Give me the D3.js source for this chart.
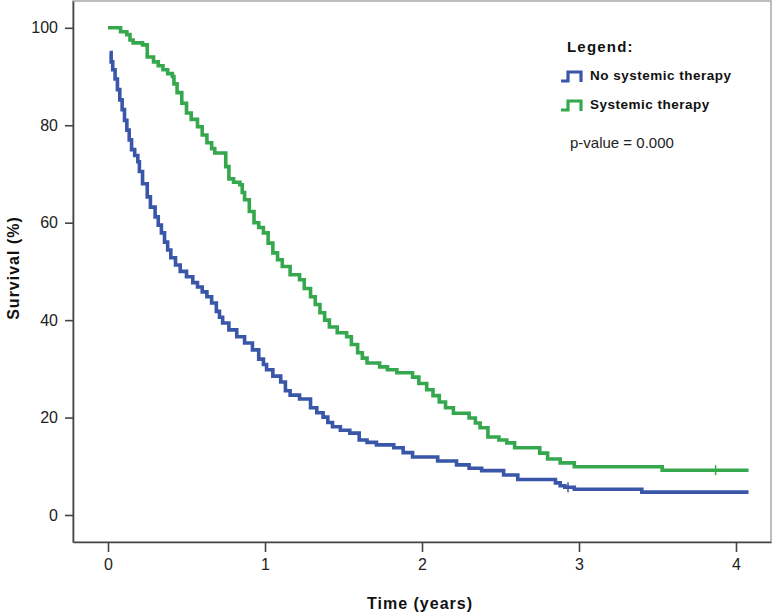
<!DOCTYPE html>
<html>
<head>
<meta charset="utf-8">
<script src="https://cdn.jsdelivr.net/npm/d3@7"></script>
<style>
  body { margin: 0; background: white; }
  text { font-family: Arial, 'Liberation Sans', sans-serif; }
</style>
</head>
<body>
<div id="chart"></div>
<script>
// Kaplan-Meier estimates (time in years, survival in %)
const noTherapyTime = [0.01,0.02,0.03,0.045,0.06,0.075,0.09,0.105,0.12,0.135,0.15,0.17,0.19,0.20,0.22,0.25,0.27,0.30,0.32,0.34,0.36,0.38,0.40,0.43,0.46,0.50,0.54,0.57,0.60,0.63,0.66,0.69,0.71,0.73,0.77,0.82,0.87,0.92,0.96,0.99,1.01,1.05,1.10,1.13,1.16,1.22,1.29,1.33,1.37,1.40,1.43,1.48,1.54,1.60,1.65,1.71,1.82,1.88,1.94,2.10,2.22,2.30,2.38,2.52,2.61,2.85,2.88,2.91,2.97,3.40,4.08];
const noTherapySurv = [94.9,93.0,91.4,89.5,87.3,85.2,83.2,81.0,79.0,77.0,75.0,73.8,72.5,70.5,68.0,65.3,63.2,61.2,59.5,57.9,56.0,54.4,52.8,51.3,50.0,48.9,47.7,46.8,45.8,44.8,43.5,41.8,40.6,39.4,38.0,36.6,35.3,33.9,32.0,30.9,29.8,28.5,27.3,25.5,24.6,23.8,22.0,21.0,20.1,19.0,18.1,17.4,16.8,15.4,14.9,14.4,13.8,12.8,11.9,11.1,10.3,9.6,9.1,8.2,7.3,6.6,6.0,5.7,5.3,4.7,4.7];

const therapyTime = [0.00,0.08,0.12,0.14,0.16,0.22,0.25,0.29,0.32,0.35,0.38,0.41,0.42,0.44,0.47,0.50,0.53,0.57,0.60,0.63,0.66,0.68,0.75,0.77,0.80,0.84,0.855,0.87,0.90,0.93,0.96,0.99,1.02,1.05,1.08,1.11,1.16,1.22,1.25,1.29,1.32,1.35,1.38,1.41,1.46,1.52,1.55,1.59,1.62,1.65,1.73,1.78,1.84,1.94,1.98,2.03,2.07,2.11,2.15,2.20,2.30,2.34,2.37,2.42,2.49,2.54,2.59,2.75,2.80,2.88,2.97,3.53,4.08];
const therapySurv = [100,99.2,98.6,97.5,96.9,96.5,94.0,93.0,92.2,91.4,90.6,90.0,88.5,86.7,84.5,82.5,81.2,79.7,78.0,76.4,75.2,74.3,71.5,69.0,68.3,67.8,66.2,64.7,62.3,60.0,59.0,57.9,55.8,53.8,52.4,51.0,49.3,48.3,46.5,44.8,43.2,41.5,40.0,38.6,37.4,36.6,35.0,33.3,32.2,31.2,30.4,29.8,29.2,28.3,27.0,25.7,24.5,23.2,22.0,20.9,19.9,18.9,17.9,16.0,15.4,14.8,13.8,12.7,11.5,10.7,9.9,9.2,9.2];

const noTherapyCensor = [2.93];
const therapyCensor = [3.87];

const xTicks = [0,1,2,3,4];
const yTicks = [0,20,40,60,80,100];

const seriesNames = ['No systemic therapy','Systemic therapy'];
const seriesColors = ['#3A56A8','#35A84E'];

const width = 777, height = 615;
const svg = d3.select('#chart')
  .append('svg')
  .attr('width',width)
  .attr('height',height);

const scaleX = d3.scaleLinear().domain([-0.223,4.223]).range([73,771]);
const scaleY = d3.scaleLinear().domain([-5.54,105.5]).range([542,1]);

// frame
svg.append('rect')
  .attr('x',scaleX.range()[0])
  .attr('y',scaleY.range()[1])
  .attr('width',scaleX.range()[1]-scaleX.range()[0])
  .attr('height',scaleY.range()[0]-scaleY.range()[1])
  .style('fill','none')
  .style('stroke','#a8a8a8')
  .style('stroke-width',1.5);

const yAxis = svg.append('g')
  .attr('transform','translate(73,0)')
  .call(d3.axisLeft(scaleY).tickValues(yTicks).tickSize(8).tickSizeOuter(0).tickPadding(7).tickFormat(d3.format('d')));
const xAxis = svg.append('g')
  .attr('transform','translate(0,542)')
  .call(d3.axisBottom(scaleX).tickValues(xTicks).tickSize(10).tickSizeOuter(0).tickPadding(7).tickFormat(d3.format('d')));

[yAxis,xAxis].forEach(function(a){
  a.select('.domain').style('stroke','#444').style('stroke-width',1.6);
  a.selectAll('.tick line').style('stroke','#444').style('stroke-width',1.6);
  a.selectAll('.tick text')
    .style('font-size','16px')
    .style('font-family','Arial, Liberation Sans, sans-serif')
    .style('fill','#222');
});

// axis titles
svg.append('text')
  .attr('x',420)
  .attr('y',609)
  .attr('text-anchor','middle')
  .style('font-size','16px')
  .style('font-weight','bold')
  .style('letter-spacing','1px')
  .style('fill','#111')
  .text('Time (years)');

svg.append('text')
  .attr('transform','translate(19,268) rotate(-90)')
  .attr('text-anchor','middle')
  .style('font-size','16px')
  .style('font-weight','bold')
  .style('letter-spacing','1px')
  .style('fill','#111')
  .text('Survival (%)');

// curves
const line = d3.line()
  .x(function(d){ return scaleX(d[0]); })
  .y(function(d){ return scaleY(d[1]); })
  .curve(d3.curveStepAfter);

const series = [
  { t: noTherapyTime, s: noTherapySurv, c: noTherapyCensor },
  { t: therapyTime, s: therapySurv, c: therapyCensor }
];

series.forEach(function(sr,i){
  const pts = sr.t.map(function(t,j){ return [t, sr.s[j]]; });
  svg.append('path')
    .datum(pts)
    .attr('d',line)
    .style('fill','none')
    .style('stroke',seriesColors[i])
    .style('stroke-width',3.6)
    .style('stroke-linejoin','miter');

  svg.selectAll('.censor-'+i)
    .data(sr.c)
    .enter()
    .append('line')
    .attr('class','censor-'+i)
    .attr('x1',function(d){ return scaleX(d); })
    .attr('x2',function(d){ return scaleX(d); })
    .attr('y1',function(d){
      const k = d3.bisectRight(sr.t,d)-1;
      return scaleY(sr.s[k])-5;
    })
    .attr('y2',function(d){
      const k = d3.bisectRight(sr.t,d)-1;
      return scaleY(sr.s[k])+5;
    })
    .style('stroke',seriesColors[i])
    .style('stroke-width',1.5);
});

// legend
svg.append('text')
  .attr('x',567)
  .attr('y',52)
  .style('font-size','15px')
  .style('font-weight','bold')
  .style('letter-spacing','1.2px')
  .style('fill','#111')
  .text('Legend:');

seriesNames.forEach(function(name,i){
  const yy = 76 + i*29;
  svg.append('path')
    .attr('d','M561,'+(yy+5)+'H568V'+(yy-4)+'H581V'+(yy+6))
    .style('fill','none')
    .style('stroke',seriesColors[i])
    .style('stroke-width',3.2);
  svg.append('text')
    .attr('x',590)
    .attr('y',yy+4)
    .style('font-size','13.5px')
    .style('font-weight','bold')
    .style('letter-spacing','0.5px')
    .style('fill','#111')
    .text(name);
});

svg.append('text')
  .attr('x',570)
  .attr('y',148)
  .style('font-size','15px')
  .style('fill','#222')
  .text('p-value = 0.000');
</script>
</body>
</html>
